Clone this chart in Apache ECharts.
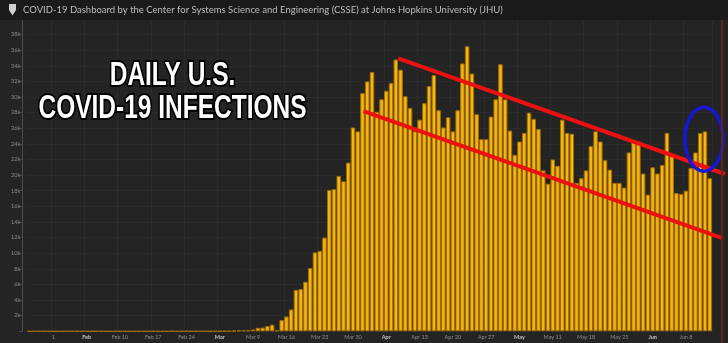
<!DOCTYPE html>
<html>
<head>
<meta charset="utf-8">
<script src="https://cdn.jsdelivr.net/npm/echarts@6/dist/echarts.min.js"></script>
<style>
  html, body { margin: 0; padding: 0; background: #1b1b1b; }
  #chart { width: 728px; height: 343px; }
</style>
</head>
<body>
<div id="chart"></div>
<script>
// Header and overlay captions
const headerTitle = 'COVID-19 Dashboard by the Center for Systems Science and Engineering (CSSE) at Johns Hopkins University (JHU)';
const captionLines = ['DAILY U.S.', 'COVID-19 INFECTIONS'];

// One bar per day, starting at firstDay
const firstDay = '2020-01-22';
const dayCount = 144;

// New U.S. cases per day (Jan 22 .. Jun 13)
const dailyCases = [
  1, 0, 1, 0, 3, 0, 0, 0, 1, 1,                 // Jan 22 - Jan 31
  1, 1, 3, 0, 1, 0, 0, 0, 0, 0,                 // Feb 1 - Feb 10
  1, 0, 1, 0, 0, 0, 0, 0, 0, 0,                 // Feb 11 - Feb 20
  20, 0, 0, 17, 1, 1, 2, 3, 7,                  // Feb 21 - Feb 29
  10, 25, 25, 40, 70, 100, 110, 140, 230, 450,  // Mar 1 - Mar 10
  470, 680, 850, 120, 1450, 1900, 2800, 5300, 5400, 6350, // Mar 11 - Mar 20
  8100, 10100, 10300, 12000, 18100, 18200, 19900, 19200, 21600, 26100, // Mar 21 - Mar 30
  25600,                                        // Mar 31
  30500, 32000, 33200, 28100, 29700, 30800, 31800, 34800, 33500, 30100, // Apr 1 - Apr 10
  28600, 25600, 27100, 29200, 31400, 32800, 28300, 26100, 27400, 25600, // Apr 11 - Apr 20
  28300, 34300, 36500, 33000, 27800, 24600, 24600, 27500, 29700, 34200, // Apr 21 - Apr 30
  29700, 25700, 22600, 24300, 25400, 28000, 27200, 25900, 20600, 18900, // May 1 - May 10
  22000, 21200, 27100, 25400, 25300, 19000, 19600, 20600, 23700, 25600, // May 11 - May 20
  24300, 21900, 20700, 19000, 19000, 18400, 22900, 24500, 24300, 20200, // May 21 - May 30
  17500,                                        // May 31
  21000, 20200, 21300, 25400, 22600, 17700, 17600, 18000, 20900, 22900, // Jun 1 - Jun 10
  25400, 25600, 19600                           // Jun 11 - Jun 13
];

// Weekly axis labels
const tickDates = [
  '2020-01-27', '2020-02-03', '2020-02-10', '2020-02-17', '2020-02-24',
  '2020-03-02', '2020-03-09', '2020-03-16', '2020-03-23', '2020-03-30',
  '2020-04-06', '2020-04-13', '2020-04-20', '2020-04-27', '2020-05-04',
  '2020-05-11', '2020-05-18', '2020-05-25', '2020-06-01', '2020-06-08'
];
const tickLabels = [
  '1', 'Feb', 'Feb 10', 'Feb 17', 'Feb 24',
  'Mar', 'Mar 9', 'Mar 16', 'Mar 23', 'Mar 30',
  'Apr', 'Apr 13', 'Apr 20', 'Apr 27', 'May',
  'May 11', 'May 18', 'May 25', 'Jun', 'Jun 8'
];
const monthLabels = ['Feb', 'Mar', 'Apr', 'May', 'Jun'];

// Value axis
const yMax = 40000;
const yStep = 2000;

// Trend channel and highlight, as [day index, cases]
const upperTrend = [[77.5, 34960], [146.2, 20140]];
const lowerTrend = [[70.2, 28200], [145.8, 11900]];
const highlightCenter = [141.8, 24600];

// Build the day categories
const days = [];
{
  const d0 = new Date(firstDay + 'T00:00:00Z');
  for (let i = 0; i < dayCount; i++) {
    const d = new Date(d0.getTime() + i * 86400000);
    days.push(d.toISOString().slice(0, 10));
  }
}

const chart = echarts.init(document.getElementById('chart'), null, { renderer: 'canvas' });

chart.setOption({
  backgroundColor: '#242424',
  animation: false,
  grid: { left: 27.2, right: 15.9, top: 18.9, bottom: 11.7, containLabel: false },
  xAxis: {
    type: 'category',
    data: days,
    boundaryGap: true,
    axisLine: { show: false },
    axisTick: { show: false },
    splitLine: {
      show: true,
      interval: (idx, val) => tickDates.includes(val),
      lineStyle: { color: 'rgba(255,255,255,0.035)', width: 1 }
    },
    axisLabel: {
      interval: (idx, val) => tickDates.includes(val),
      margin: 3,
      fontSize: 5.5,
      fontFamily: 'Lato',
      color: '#8c8c8c',
      formatter: (val) => {
        const t = tickLabels[tickDates.indexOf(val)];
        return monthLabels.includes(t) ? '{m|' + t + '}' : t;
      },
      rich: { m: { fontSize: 5.5, fontFamily: 'Lato', fontWeight: 'bold', color: '#c4c4c4' } }
    }
  },
  yAxis: {
    type: 'value',
    min: 0,
    max: yMax,
    interval: yStep,
    offset: 5,
    axisLine: { show: true, lineStyle: { color: '#4c4c4c', width: 1 } },
    axisTick: { show: true, length: 3, lineStyle: { color: '#4c4c4c' } },
    axisLabel: {
      margin: 2,
      fontSize: 5.5,
      fontFamily: 'Lato',
      color: '#8c8c8c',
      formatter: (v) => (v === 0 || v === yMax) ? '' : (v / 1000) + 'k'
    },
    splitLine: { show: true, lineStyle: { color: 'rgba(255,255,255,0.03)' } }
  },
  series: [{
    type: 'bar',
    data: dailyCases,
    barCategoryGap: '6%',
    itemStyle: { color: '#f6b612', borderColor: '#a26e00', borderWidth: 1 }
  }]
});

// Map [day index, cases] to pixels through the chart's own axes
function toPx(pt) {
  const a = chart.convertToPixel({ gridIndex: 0 }, [0, 0]);
  const b = chart.convertToPixel({ gridIndex: 0 }, [100, 10000]);
  return [a[0] + (b[0] - a[0]) * pt[0] / 100, a[1] + (b[1] - a[1]) * pt[1] / 10000];
}

const u0 = toPx(upperTrend[0]), u1 = toPx(upperTrend[1]);
const l0 = toPx(lowerTrend[0]), l1 = toPx(lowerTrend[1]);
const hc = toPx(highlightCenter);

// Heavy condensed caption: bold sans squeezed horizontally
const captionStyle = {
  fill: '#ffffff',
  stroke: '#000000',
  lineWidth: 4,
  strokeFirst: true,
  font: 'bold 34px "Liberation Sans", Arial, sans-serif',
  align: 'center',
  verticalAlign: 'middle'
};
const captionSqueeze = 0.72;

chart.setOption({
  graphic: [
    // header strip
    { type: 'rect', z: 100, shape: { x: 0, y: 0, width: 728, height: 20 }, style: { fill: '#1a1a1a' } },
    { type: 'polygon', z: 101, shape: { points: [[9, 4], [16, 4], [16, 10], [12.5, 15.5], [9, 10]] }, style: { fill: '#cfcfcf' } },
    { type: 'text', z: 101, x: 23, y: 10,
      style: { text: headerTitle, fill: '#bdbdbd', font: '9.5px Lato', verticalAlign: 'middle' } },
    // frame edge on the right
    { type: 'rect', z: 90, shape: { x: 721, y: 20, width: 2, height: 323 }, style: { fill: '#5e2619' } },
    // trend channel
    { type: 'line', z: 60, shape: { x1: u0[0], y1: u0[1], x2: u1[0], y2: u1[1] }, style: { stroke: '#ec1111', lineWidth: 4 } },
    { type: 'line', z: 60, shape: { x1: l0[0], y1: l0[1], x2: l1[0], y2: l1[1] }, style: { stroke: '#ec1111', lineWidth: 4 } },
    // highlight ring on the latest rise
    { type: 'ellipse', z: 61, shape: { cx: hc[0], cy: hc[1], rx: 19, ry: 32 }, style: { fill: 'none', stroke: '#1616d8', lineWidth: 3.5 } },
    // caption
    { type: 'text', z: 70, x: 172.5, y: 76, scaleX: captionSqueeze, style: Object.assign({ text: captionLines[0] }, captionStyle) },
    { type: 'text', z: 70, x: 172.5, y: 108.5, scaleX: captionSqueeze, style: Object.assign({ text: captionLines[1] }, captionStyle) }
  ]
});
</script>
</body>
</html>
